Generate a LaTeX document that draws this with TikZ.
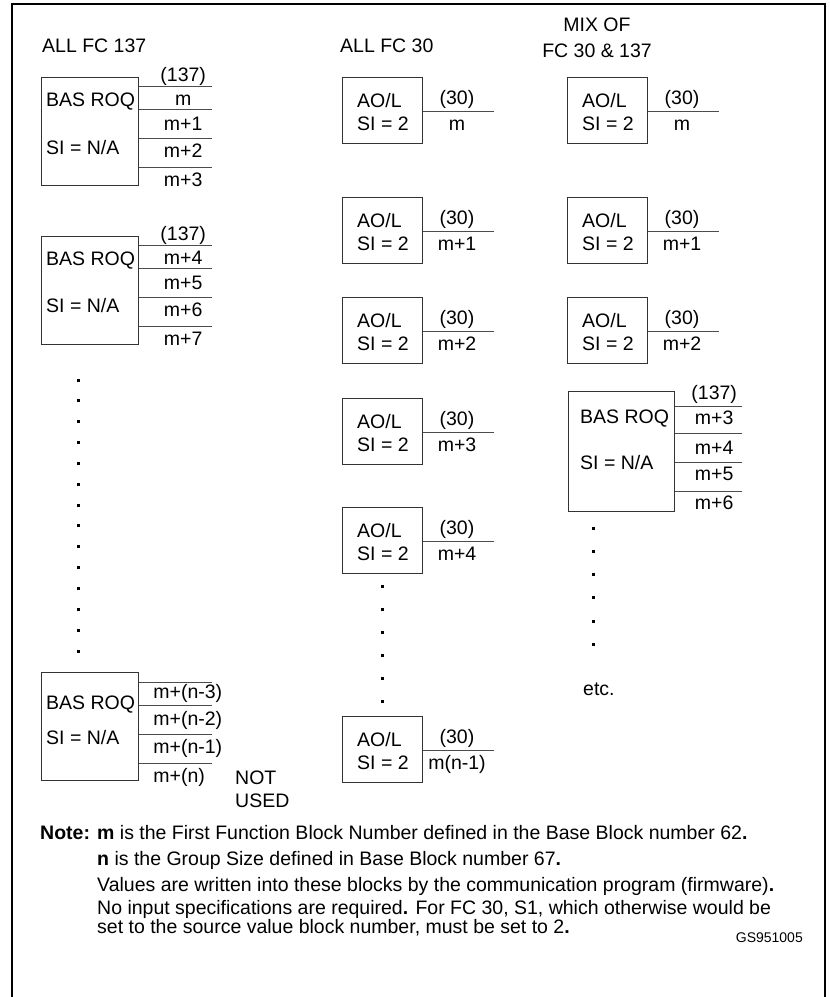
\documentclass[tikz,border=0pt]{standalone}
\usepackage{fontspec}
\setmainfont{Liberation Sans}
\usetikzlibrary{positioning}
\newcommand{\txtsize}{\fontsize{19.5}{23}\selectfont}

\begin{document}
\begin{tikzpicture}[
  x=1pt, y=-1pt,
  every node/.style={font=\txtsize, inner sep=0pt},
  roqbox/.style={draw=black!80, line width=1.2pt, anchor=north west, minimum width=#1, minimum height=108pt},
  roqbox/.default=97pt,
  aolbox/.style={draw=black!80, line width=1.2pt, anchor=north west, minimum width=80pt, minimum height=66pt},
  outline/.style={draw=black!70, line width=1pt},
  lbl/.style={anchor=base},
  txt/.style={anchor=base west}
]
\useasboundingbox (0,0) rectangle (830,997);
\draw[line width=1.8pt] (12,997) -- (12,4) -- (825,4) -- (825,997);

% headers
\node[txt] (h1) at (42,52) {ALL FC 137};
\node[txt] (h2) at (340,52) {ALL FC 30};
\node[lbl] (h3a) at (597,31) {MIX OF};
\node[lbl] (h3b) at (597,57) {FC 30 \& 137};

% column 1
\node[roqbox] (r1) at (41,77) {};
\node[txt] (r1a) at (46,106) {BAS ROQ};
\node[txt] (r1b) at (46,154) {SI = N/A};
\foreach \dy in {9,32,61,90} \draw[outline] ([yshift=-\dy pt]r1.north east) -- ++(73,0);
\foreach \t/\dy [count=\i] in {(137)/4, m/28, m+1/53.5, m+2/80.5, m+3/109.5}
  \node[lbl] (r1o\i) at ([xshift=44pt,yshift=-\dy pt]r1.north east) {\t};

\node[roqbox] (r2) at (41,236) {};
\node[txt] (r2a) at (46,265) {BAS ROQ};
\node[txt] (r2b) at (46,312) {SI = N/A};
\foreach \dy in {9,32.5,61.5,90.5} \draw[outline] ([yshift=-\dy pt]r2.north east) -- ++(73,0);
\foreach \t/\dy [count=\i] in {(137)/4, m+4/28, m+5/53.5, m+6/80.5, m+7/109.5}
  \node[lbl] (r2o\i) at ([xshift=44pt,yshift=-\dy pt]r2.north east) {\t};

\foreach \k in {0,...,13} \fill (76.5,378.5+\k*20.85) rectangle ++(3,3);

\node[roqbox] (r3) at (41,672) {};
\node[txt] (r3a) at (46,709) {BAS ROQ};
\node[txt] (r3b) at (46,744) {SI = N/A};
\foreach \dy in {10,33,62,91} \draw[outline] ([yshift=-\dy pt]r3.north east) -- ++(73,0);
\foreach \t/\dy [count=\i] in {m+(n-3)/26, m+(n-2)/53, m+(n-1)/81, m+(n)/110}
  \node[txt] (r3o\i) at ([xshift=14pt,yshift=-\dy pt]r3.north east) {\t};
\node[txt] (nu1) at (235,784) {NOT};
\node[txt] (nu2) at (235,807) {USED};

% column 2
\foreach \ty/\t [count=\i] in {77/m, 197/m+1, 297/m+2, 398/m+3, 507/m+4, 716/m(n-1)} {
  \node[aolbox] (a\i) at (342,\ty) {};
  \node[txt] (a\i t) at (357,\ty+30) {AO/L};
  \node[txt] (a\i s) at (357,\ty+53) {SI = 2};
  \draw[outline] ([yshift=-34pt]a\i.north east) -- ++(71,0);
  \node[lbl] (a\i f) at (457,\ty+27.5) {(30)};
  \node[lbl] (a\i o) at (457,\ty+53) {\t};
}
\foreach \k in {0,...,5} \fill (381,584.5+\k*23) rectangle ++(3,3);

% column 3
\foreach \ty/\t [count=\i] in {77/m, 197/m+1, 297/m+2} {
  \node[aolbox] (b\i) at (567,\ty) {};
  \node[txt] (b\i t) at (582,\ty+30) {AO/L};
  \node[txt] (b\i s) at (582,\ty+53) {SI = 2};
  \draw[outline] ([yshift=-34pt]b\i.north east) -- ++(71,0);
  \node[lbl] (b\i f) at (682,\ty+27.5) {(30)};
  \node[lbl] (b\i o) at (682,\ty+53) {\t};
}
\node[roqbox=106pt, minimum height=120pt] (r4) at (568,391) {};
\node[txt] (r4a) at (580,423) {BAS ROQ};
\node[txt] (r4b) at (580,469) {SI = N/A};
\foreach \dy in {15,42,71,100} \draw[outline] ([yshift=-\dy pt]r4.north east) -- ++(67,0);
\foreach \t/\dy [count=\i] in {(137)/8, m+3/33.5, m+4/63.5, m+5/89.5, m+6/118.5}
  \node[lbl] (r4o\i) at ([xshift=39pt,yshift=-\dy pt]r4.north east) {\t};
\foreach \k in {0,...,5} \fill (591.5,526.5+\k*23.3) rectangle ++(3,3);
\node[txt] (etc) at (583,695) {etc.};

% note
\node[txt, font=\txtsize\bfseries] (note) at (40,839) {Note:};
\node[txt] (n1) at (97,839) {\textbf{m} is the First Function Block Number defined in the Base Block number 62\textbf{.}};
\node[txt] (n2) at (97,865) {\textbf{n} is the Group Size defined in Base Block number 67\textbf{.}};
\node[txt] (n3) at (97,891) {Values are written into these blocks by the communication program (firmware)\textbf{.}};
\node[txt] (n4) at (97,914.5) {No input specifications are required\textbf{.} For FC 30, S1, which otherwise would be};
\node[txt] (n5) at (97,933.5) {set to the source value block number, must be set to 2\textbf{.}};
\node[anchor=base east, font=\fontsize{14}{16}\selectfont] (gs) at (803,942) {GS951005};
\end{tikzpicture}
\end{document}
